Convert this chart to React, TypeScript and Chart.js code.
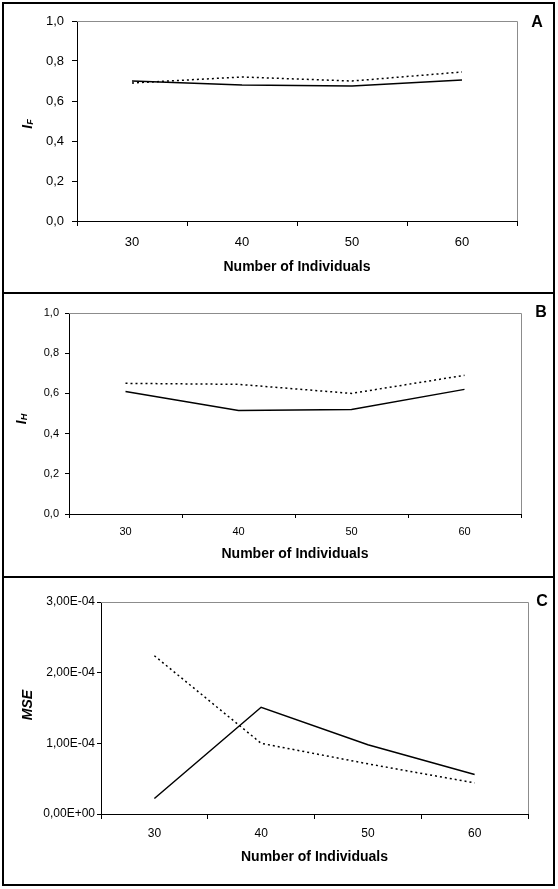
import React, { useEffect, useRef } from 'react';
import { Chart, registerables } from 'chart.js';
Chart.register(...registerables);

const categories = ['30', '40', '50', '60'];
const fSolid = [0.70, 0.68, 0.675, 0.705];
const fDotted = [0.69, 0.72, 0.70, 0.745];
const hSolid = [0.61, 0.515, 0.52, 0.62];
const hDotted = [0.65, 0.645, 0.60, 0.69];
const mseSolid = [2.2e-5, 1.51e-4, 9.8e-5, 5.6e-5];
const mseDotted = [2.24e-4, 1.0e-4, 7.1e-5, 4.4e-5];
const xTitle = 'Number of Individuals';

const FAM = '"Liberation Sans", Arial, sans-serif';

const comma1 = (v: number) => Number(v).toFixed(1).replace('.', ',');
const sci = (v: number) => {
  if (Math.abs(v) < 1e-12) return '0,00E+00';
  const [m, e] = Number(v).toExponential(2).split('e');
  const n = parseInt(e, 10);
  return m.replace('.', ',') + 'E' + (n < 0 ? '-' : '+') + String(Math.abs(n)).padStart(2, '0');
};

const decor = {
  id: 'decor',
  beforeDatasetsDraw(chart: any, _a: any, o: any) {
    const { ctx, chartArea: a } = chart;
    ctx.save();
    ctx.strokeStyle = '#8c8c8c';
    ctx.lineWidth = 1;
    ctx.beginPath();
    ctx.moveTo(a.left, Math.round(a.top) + 0.5);
    ctx.lineTo(Math.round(a.right) + 0.5, Math.round(a.top) + 0.5);
    ctx.lineTo(Math.round(a.right) + 0.5, a.bottom);
    ctx.stroke();
    ctx.restore();
  },
  afterDraw(chart: any, _a: any, o: any) {
    const ctx = chart.ctx;
    ctx.save();
    ctx.fillStyle = '#000';
    ctx.translate(o.titleX, o.titleY);
    ctx.rotate(-Math.PI / 2);
    ctx.textBaseline = 'middle';
    ctx.textAlign = 'left';
    const mainFont = `italic bold ${o.mainSize}px ${FAM}`;
    const subFont = `italic bold 9px ${FAM}`;
    ctx.font = mainFont;
    const w1 = ctx.measureText(o.main).width;
    let w2 = 0;
    if (o.sub) {
      ctx.font = subFont;
      w2 = ctx.measureText(o.sub).width;
    }
    const start = -(w1 + w2) / 2;
    ctx.font = mainFont;
    ctx.fillText(o.main, start, 0);
    if (o.sub) {
      ctx.font = subFont;
      ctx.fillText(o.sub, start + w1, 3);
    }
    ctx.restore();
    ctx.save();
    ctx.fillStyle = '#000';
    ctx.font = `bold 16px ${FAM}`;
    ctx.textAlign = 'center';
    ctx.textBaseline = 'middle';
    ctx.fillText(o.letter, o.letterX, o.letterY);
    ctx.restore();
  },
};

type PanelProps = {
  top: number;
  height: number;
  L: number;
  R: number;
  T: number;
  B: number;
  solid: number[];
  dotted: number[];
  yMax: number;
  yStep: number;
  fmt: (v: number) => string;
  tickSize: number;
  yTickLen: number;
  yPad: number;
  xTickLen: number;
  xPad: number;
  titlePad: number;
  main: string;
  sub: string;
  mainSize: number;
  titleX: number;
  titleY: number;
  letter: string;
  letterX: number;
  letterY: number;
};

function Panel(p: PanelProps) {
  const ref = useRef<HTMLCanvasElement | null>(null);
  useEffect(() => {
    const W = 558;
    const chart = new Chart(ref.current as HTMLCanvasElement, {
      type: 'line',
      data: {
        labels: categories,
        datasets: [
          { data: p.solid, borderColor: '#000', borderWidth: 1.5, pointRadius: 0, tension: 0, fill: false },
          { data: p.dotted, borderColor: '#000', borderWidth: 1.5, borderDash: [2, 3], pointRadius: 0, tension: 0, fill: false },
        ],
      },
      options: {
        responsive: false,
        animation: false,
        devicePixelRatio: 1,
        layout: { padding: { left: 0, top: p.T, right: W - p.R, bottom: 0 } },
        plugins: {
          legend: { display: false },
          tooltip: { enabled: false },
          decor: {
            main: p.main, sub: p.sub, mainSize: p.mainSize, titleX: p.titleX, titleY: p.titleY,
            letter: p.letter, letterX: p.letterX, letterY: p.letterY,
          },
        } as any,
        scales: {
          x: {
            type: 'category',
            offset: true,
            grid: { offset: true, drawOnChartArea: false, drawTicks: true, tickLength: p.xTickLen, color: '#000' },
            border: { display: true, color: '#000', width: 1 },
            ticks: { color: '#000', font: { family: FAM, size: p.tickSize }, padding: p.xPad, maxRotation: 0 },
            title: {
              display: true, text: xTitle, color: '#000',
              font: { family: FAM, size: 14, weight: 'bold' },
              padding: { top: 0, bottom: p.titlePad },
            },
            afterFit: (s: any) => { s.height = p.height - p.B; },
          },
          y: {
            min: 0,
            max: p.yMax,
            grid: { drawOnChartArea: false, drawTicks: true, tickLength: p.yTickLen, color: '#000' },
            border: { display: true, color: '#000', width: 1 },
            ticks: {
              stepSize: p.yStep, color: '#000', font: { family: FAM, size: p.tickSize }, padding: p.yPad,
              callback: (v: any) => p.fmt(Number(v)),
            },
            afterFit: (s: any) => { s.width = p.L; },
          },
        },
      } as any,
      plugins: [decor as any],
    });
    return () => chart.destroy();
  }, []);
  return (
    <canvas
      ref={ref}
      width={558}
      height={p.height}
      style={{ position: 'absolute', left: 0, top: p.top, width: 558, height: p.height }}
    />
  );
}

export default function App() {
  return (
    <div style={{ position: 'fixed', left: 0, top: 0, width: 558, height: 889, background: '#fff', overflow: 'hidden' }}>
      <Panel
        top={0} height={293} L={77} R={517} T={21} B={221}
        solid={fSolid} dotted={fDotted} yMax={1} yStep={0.2} fmt={comma1}
        tickSize={13} yTickLen={5} yPad={8} xTickLen={5} xPad={9} titlePad={17}
        main="I" sub="F" mainSize={14} titleX={28} titleY={124}
        letter="A" letterX={537} letterY={23}
      />
      <Panel
        top={293} height={284} L={69} R={521} T={20} B={221}
        solid={hSolid} dotted={hDotted} yMax={1} yStep={0.2} fmt={comma1}
        tickSize={11} yTickLen={4} yPad={6} xTickLen={4} xPad={7} titlePad={14}
        main="I" sub="H" mainSize={14} titleX={22} titleY={126}
        letter="B" letterX={541} letterY={20}
      />
      <Panel
        top={577} height={310} L={101} R={528} T={25} B={237}
        solid={mseSolid} dotted={mseDotted} yMax={0.0003} yStep={0.0001} fmt={sci}
        tickSize={12} yTickLen={4} yPad={2} xTickLen={5} xPad={7} titlePad={21}
        main="MSE" sub="" mainSize={14} titleX={28} titleY={128}
        letter="C" letterX={542} letterY={25}
      />
      <div style={{ position: 'absolute', left: 2, top: 2, width: 553, height: 884, border: '2px solid #000', boxSizing: 'border-box' }} />
      <div style={{ position: 'absolute', left: 2, top: 292, width: 553, height: 2, background: '#000' }} />
      <div style={{ position: 'absolute', left: 2, top: 576, width: 553, height: 2, background: '#000' }} />
    </div>
  );
}
